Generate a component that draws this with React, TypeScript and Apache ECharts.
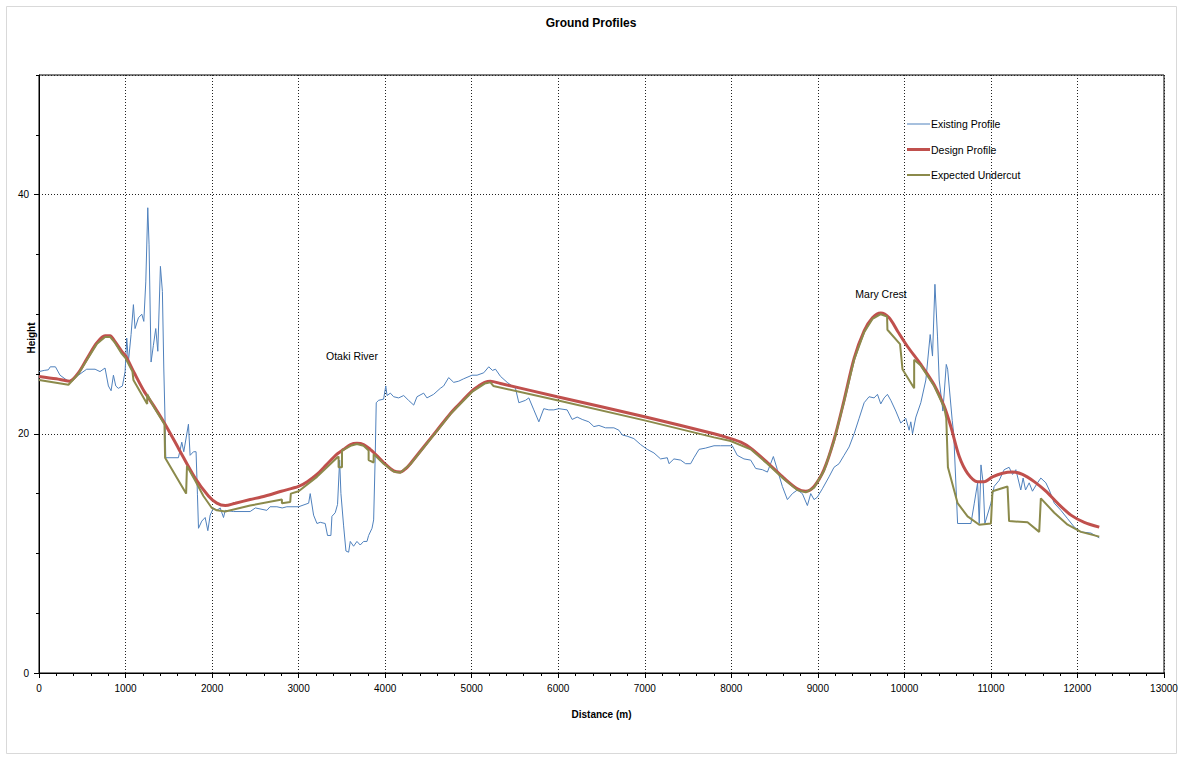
import React, { useEffect, useRef } from "react";
import * as echarts from "echarts";

const FONT = "'Liberation Sans', Arial, sans-serif";

const seriesNames = ["Existing Profile", "Design Profile", "Expected Undercut"];
const seriesColors = ["#4f81bd", "#c0504d", "#8b8a4b"];
const seriesWidths = [1, 3, 2];
const xTicks = { min: 0, max: 13000, interval: 1000 };
const yTicks = { min: 0, max: 50, interval: 20 };

const existingProfile: [number, number][] = [
  [0, 25.2], [60, 25.3], [108, 25.35], [130, 25.6], [190, 25.6], [243, 24.9], [300, 24.6], [340, 24.4],
  [400, 24.6], [455, 24.9], [551, 25.4], [648, 25.4], [705, 25.2], [763, 25.5], [802, 24.0], [833, 23.6],
  [860, 24.9], [887, 24.0], [917, 23.8], [964, 24.0], [995, 25.2], [1014, 28.0], [1033, 26.0], [1064, 28.3],
  [1091, 30.8], [1110, 28.8], [1149, 29.7], [1188, 30.0], [1211, 29.4], [1234, 32.7], [1257, 38.9], [1272, 35.8],
  [1295, 26.0], [1322, 27.4], [1349, 28.8], [1373, 26.9], [1403, 34.0], [1426, 31.9], [1442, 25.5], [1457, 21.0],
  [1465, 18.0], [1611, 18.0], [1650, 19.3], [1673, 18.5], [1727, 20.8], [1746, 18.2], [1785, 18.5], [1815, 18.5],
  [1831, 14.9], [1843, 12.1], [1881, 12.7], [1920, 13.0], [1951, 11.9], [1978, 13.2], [2016, 13.8], [2055, 13.6],
  [2094, 13.8], [2132, 13.0], [2152, 13.6], [2247, 13.5], [2440, 13.5], [2500, 13.8], [2633, 13.6], [2670, 13.9],
  [2749, 13.9], [2810, 13.8], [2864, 13.9], [3000, 13.9], [3116, 14.2], [3134, 15.0], [3173, 13.2], [3212, 12.5],
  [3250, 12.6], [3307, 12.5], [3334, 11.5], [3373, 11.5], [3385, 13.1], [3423, 13.4], [3450, 14.1], [3474, 17.8],
  [3489, 15.0], [3520, 12.3], [3547, 10.2], [3578, 10.1], [3597, 11.0], [3635, 10.6], [3674, 11.0], [3712, 10.7],
  [3751, 11.0], [3790, 11.0], [3809, 11.5], [3848, 12.1], [3867, 12.8], [3886, 18.4], [3897, 22.6], [3925, 22.8],
  [3982, 22.9], [4007, 24.0], [4022, 23.2], [4060, 23.4], [4098, 23.1], [4156, 23.0], [4214, 23.2], [4270, 22.8],
  [4330, 22.4], [4368, 23.1], [4445, 23.4], [4483, 23.0], [4560, 23.3], [4637, 23.8], [4676, 24.0], [4734, 24.7],
  [4792, 24.3], [4850, 24.4], [4907, 24.6], [5004, 24.9], [5062, 24.9], [5139, 25.1], [5197, 25.6], [5240, 25.3],
  [5275, 25.4], [5333, 24.8], [5410, 24.3], [5506, 23.8], [5545, 22.6], [5622, 22.8], [5660, 23.0], [5718, 22.0],
  [5776, 21.0], [5833, 22.1], [5891, 22.0], [5949, 22.0], [6007, 22.1], [6103, 22.0], [6161, 21.2], [6219, 21.4],
  [6277, 21.2], [6354, 21.0], [6412, 20.6], [6470, 20.7], [6546, 20.5], [6643, 20.5], [6701, 20.3], [6740, 19.9],
  [6797, 19.8], [6874, 19.6], [6952, 19.1], [7029, 18.7], [7106, 18.4], [7183, 17.9], [7260, 18.0], [7280, 17.5],
  [7337, 17.9], [7415, 17.8], [7472, 17.5], [7530, 17.5], [7568, 18.0], [7627, 18.7], [7700, 18.8], [7800, 19.0],
  [7877, 19.0], [8011, 19.0], [8069, 18.2], [8146, 17.9], [8224, 17.8], [8282, 17.1], [8359, 17.0], [8417, 16.8],
  [8486, 18.1], [8532, 17.0], [8590, 15.6], [8648, 14.5], [8706, 15.0], [8763, 15.3], [8821, 15.0], [8879, 14.0],
  [8918, 15.0], [8956, 14.5], [8994, 14.7], [9052, 15.4], [9129, 16.4], [9187, 17.2], [9245, 17.5], [9303, 18.2],
  [9361, 18.9], [9419, 20.0], [9477, 21.3], [9535, 22.6], [9592, 23.1], [9650, 23.0], [9689, 23.3], [9727, 22.5],
  [9766, 23.0], [9804, 23.3], [9843, 22.8], [9901, 21.9], [9958, 20.9], [10016, 21.3], [10055, 20.3], [10074, 21.0],
  [10094, 20.0], [10133, 21.4], [10190, 22.6], [10248, 24.5], [10298, 28.3], [10325, 26.5], [10353, 32.5], [10383, 28.1],
  [10402, 24.5], [10445, 21.9], [10484, 25.8], [10500, 25.4], [10553, 21.1], [10570, 20.0], [10615, 12.5], [10769, 12.5],
  [10808, 14.2], [10846, 15.9], [10865, 12.5], [10885, 17.4], [10910, 15.9], [10930, 12.5], [11000, 14.2], [11037, 15.6],
  [11095, 16.1], [11153, 17.0], [11210, 17.2], [11250, 16.6], [11288, 17.0], [11345, 15.3], [11372, 16.3], [11400, 15.3],
  [11442, 15.9], [11480, 15.2], [11538, 15.9], [11577, 16.3], [11635, 15.9], [11674, 15.3], [11732, 14.2], [11809, 13.6],
  [11886, 12.9], [11963, 12.2], [12040, 11.8], [12156, 11.7], [12252, 11.3],
];

const designProfile: [number, number][] = [
  [0, 24.8], [200, 24.6], [350, 24.4], [455, 25.1], [555, 26.3], [667, 27.6], [763, 28.2], [821, 28.2],
  [879, 27.7], [956, 26.9], [1002, 26.5], [1100, 25.1], [1211, 23.6], [1330, 22.3], [1457, 20.8], [1611, 18.8],
  [1804, 16.3], [1958, 14.8], [2055, 14.2], [2152, 14.0], [2268, 14.2], [2440, 14.5], [2615, 14.8], [2800, 15.2],
  [2999, 15.6], [3100, 16.0], [3211, 16.6], [3320, 17.4], [3443, 18.3], [3520, 18.7], [3600, 19.1], [3674, 19.2],
  [3751, 19.1], [3828, 18.7], [3900, 18.2], [3982, 17.6], [4098, 16.9], [4175, 16.8], [4240, 17.1], [4291, 17.5],
  [4445, 18.9], [4600, 20.3], [4754, 21.7], [4831, 22.3], [5004, 23.6], [5080, 24.0], [5150, 24.3], [5217, 24.4],
  [5333, 24.2], [5988, 23.1], [7010, 21.4], [7800, 20.0], [7993, 19.6], [8110, 19.3], [8224, 18.8], [8417, 17.6],
  [8609, 16.3], [8763, 15.4], [8860, 15.2], [8956, 15.6], [9071, 17.0], [9187, 19.5], [9303, 22.8], [9419, 26.3],
  [9535, 28.6], [9631, 29.7], [9727, 30.1], [9824, 29.7], [9920, 28.6], [10036, 27.3], [10190, 25.8], [10344, 24.1],
  [10460, 22.3], [10537, 20.6], [10634, 18.1], [10730, 16.7], [10846, 16.0], [10923, 16.0], [11018, 16.4], [11134, 16.7],
  [11250, 16.8], [11365, 16.6], [11500, 16.0], [11635, 15.2], [11770, 14.2], [11925, 13.2], [12079, 12.6], [12252, 12.2],
];

const expectedUndercut: [number, number][] = [
  [0, 24.5], [340, 24.1], [455, 25.0], [555, 26.2], [667, 27.5], [763, 28.1], [821, 28.1], [879, 27.6],
  [956, 26.7], [1002, 26.3], [1080, 25.2], [1091, 24.5], [1250, 22.5], [1250, 23.3], [1330, 22.2], [1450, 20.8],
  [1457, 18.0], [1700, 15.0], [1710, 17.3], [1804, 16.1], [1900, 14.8], [1997, 13.8], [2055, 13.6], [2152, 13.5],
  [2440, 14.0], [2807, 14.5], [2807, 14.2], [2903, 14.3], [2910, 15.0], [3000, 15.2], [3212, 16.4], [3443, 18.0],
  [3462, 18.1], [3462, 17.2], [3501, 17.2], [3501, 18.6], [3600, 19.0], [3674, 19.15], [3751, 19.0], [3809, 18.6],
  [3809, 17.8], [3867, 17.6], [3867, 18.3], [3982, 17.5], [4098, 16.85], [4175, 16.75], [4291, 17.45], [4445, 18.85],
  [4600, 20.25], [4754, 21.65], [5004, 23.5], [5150, 24.2], [5217, 24.3], [5250, 24.0], [5988, 22.8], [7010, 21.1],
  [7800, 19.7], [7993, 19.4], [8224, 18.7], [8417, 17.5], [8609, 16.2], [8763, 15.3], [8860, 15.1], [8956, 15.5],
  [9071, 16.9], [9187, 19.4], [9303, 22.7], [9419, 26.2], [9535, 28.5], [9631, 29.6], [9727, 30.0], [9800, 29.8],
  [9804, 28.7], [9950, 27.5], [9978, 25.4], [10113, 23.8], [10113, 26.2], [10190, 25.7], [10344, 24.0], [10460, 22.2],
  [10484, 21.3], [10503, 17.2], [10615, 14.2], [10730, 13.1], [10865, 12.4], [11000, 12.5], [11018, 15.2], [11192, 15.6],
  [11210, 12.7], [11423, 12.6], [11558, 11.8], [11577, 14.6], [11732, 13.4], [11886, 12.4], [12040, 11.8], [12252, 11.4],
];

const annotations = [
  { text: "Otaki River", x: 352, y: 356 },
  { text: "Mary Crest", x: 881, y: 294 },
];

const legendLayout = { x: 907, y: 124, lineLength: 23, rowGap: 25.5 };

export default function App() {
  const ref = useRef<HTMLDivElement>(null);
  useEffect(() => {
    document.body.style.margin = "0";
    const chart = echarts.init(ref.current!, null, { renderer: "svg" });
    const legendGraphics: any[] = [];
    seriesNames.forEach((name, i) => {
      const y = legendLayout.y + i * legendLayout.rowGap;
      legendGraphics.push({
        type: "line",
        shape: { x1: legendLayout.x, y1: y, x2: legendLayout.x + legendLayout.lineLength, y2: y },
        style: { stroke: seriesColors[i], lineWidth: seriesWidths[i] },
        silent: true,
      });
      legendGraphics.push({
        type: "text",
        x: legendLayout.x + legendLayout.lineLength + 1,
        y,
        style: {
          text: name,
          fill: "#000",
          font: `10.5px ${FONT}`,
          align: "left",
          verticalAlign: "middle",
          textAlign: "left",
          textVerticalAlign: "middle",
        },
      });
    });
    chart.setOption({
      animation: false,
      backgroundColor: "#ffffff",
      title: {
        text: "Ground Profiles",
        left: "center",
        top: 12,
        textStyle: { fontSize: 12, fontWeight: "bold", color: "#000", fontFamily: FONT },
      },
      grid: { left: 39, right: 18, top: 75, bottom: 85, show: true, borderColor: "#000", borderWidth: 1 },
      xAxis: {
        type: "value",
        min: xTicks.min,
        max: xTicks.max,
        interval: xTicks.interval,
        name: "Distance (m)",
        nameLocation: "middle",
        nameGap: 36,
        nameTextStyle: { fontSize: 10, fontWeight: "bold", color: "#000", fontFamily: FONT },
        axisLine: { lineStyle: { color: "#000", width: 1 } },
        axisTick: { length: 5, lineStyle: { color: "#000" } },
        minorTick: { show: true, splitNumber: 5, length: 3, lineStyle: { color: "#000" } },
        axisLabel: {
          fontSize: 10,
          color: "#000",
          fontFamily: FONT,
          margin: 10,
          formatter: (v: number) => String(v),
        },
        splitLine: { show: true, lineStyle: { color: "#222", type: [1, 2], width: 1 } },
      },
      yAxis: [
        {
          type: "value",
          min: yTicks.min,
          max: yTicks.max,
          interval: yTicks.interval,
          position: "left",
          axisLine: { show: true, lineStyle: { color: "#000", width: 1 } },
          axisTick: { show: true, length: 5, lineStyle: { color: "#000" } },
          axisLabel: {
            fontSize: 10,
            color: "#000",
            fontFamily: FONT,
            margin: 10,
            showMaxLabel: false,
            formatter: (v: number) => String(v),
          },
          splitLine: { show: true, lineStyle: { color: "#222", type: [1, 2], width: 1 } },
        },
        {
          type: "value",
          min: yTicks.min,
          max: yTicks.max,
          interval: 5,
          position: "left",
          offset: 0,
          axisLine: { show: false },
          axisTick: { show: true, length: 3, lineStyle: { color: "#000" } },
          axisLabel: { show: false },
          splitLine: { show: false },
        },
      ],
      graphic: [
        {
          type: "rect",
          shape: { x: 6.5, y: 6.5, width: 1170, height: 747 },
          style: { fill: "none", stroke: "#d9d9d9", lineWidth: 1 },
          z: -10,
          silent: true,
        },
        {
          type: "text",
          x: 31,
          y: 338,
          rotation: Math.PI / 2,
          style: {
            text: "Height",
            fill: "#000",
            font: `bold 10px ${FONT}`,
            align: "center",
            verticalAlign: "middle",
            textAlign: "center",
            textVerticalAlign: "middle",
          },
        },
        ...annotations.map((a) => ({
          type: "text",
          x: a.x,
          y: a.y,
          style: {
            text: a.text,
            fill: "#000",
            font: `10.5px ${FONT}`,
            align: "center",
            verticalAlign: "middle",
            textAlign: "center",
            textVerticalAlign: "middle",
          },
        })),
        ...legendGraphics,
      ],
      series: [
        {
          name: seriesNames[0],
          type: "line",
          data: existingProfile,
          symbol: "none",
          showSymbol: false,
          lineStyle: { color: seriesColors[0], width: seriesWidths[0] },
          itemStyle: { color: seriesColors[0] },
          z: 2,
        },
        {
          name: seriesNames[1],
          type: "line",
          data: designProfile,
          symbol: "none",
          showSymbol: false,
          smooth: 0.3,
          lineStyle: { color: seriesColors[1], width: seriesWidths[1] },
          itemStyle: { color: seriesColors[1] },
          z: 3,
        },
        {
          name: seriesNames[2],
          type: "line",
          data: expectedUndercut,
          symbol: "none",
          showSymbol: false,
          lineStyle: { color: seriesColors[2], width: seriesWidths[2] },
          itemStyle: { color: seriesColors[2] },
          z: 4,
        },
      ],
    });
    return () => chart.dispose();
  }, []);
  return (
    <div
      ref={ref}
      style={{ position: "absolute", left: 0, top: 0, width: 1182, height: 758 }}
    />
  );
}
